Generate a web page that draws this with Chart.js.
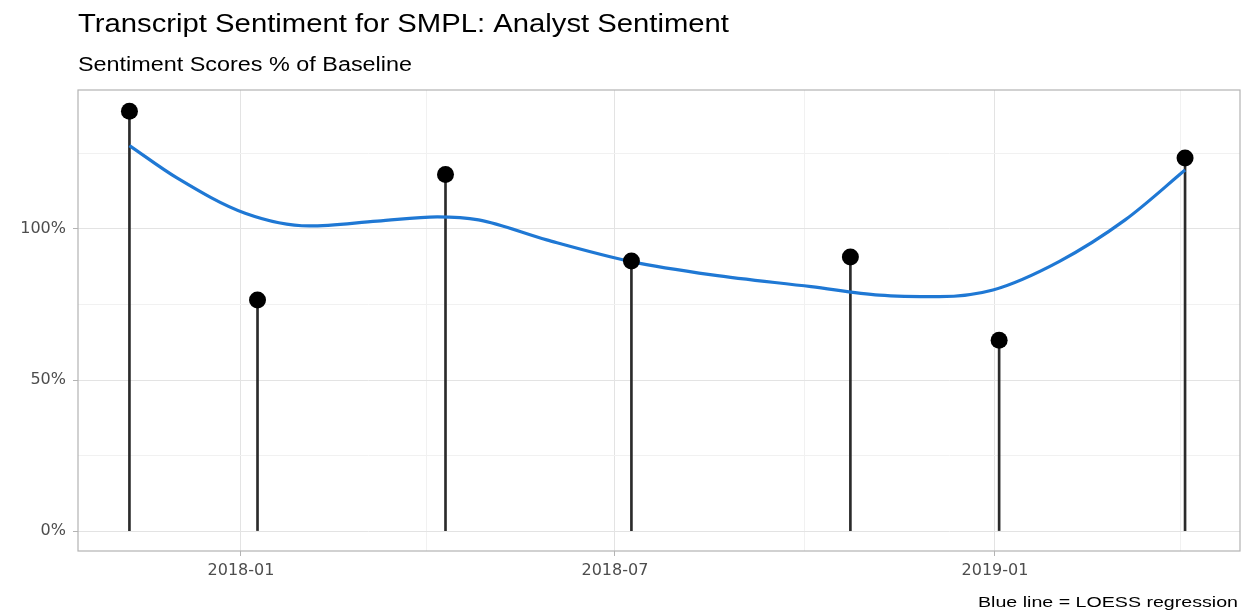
<!DOCTYPE html>
<html>
<head>
<meta charset="utf-8">
<script src="https://cdn.jsdelivr.net/npm/chart.js@4.4.1/dist/chart.umd.min.js"></script>
<style>
  html, body { margin: 0; padding: 0; background: #fff; }
  #wrap { width: 1250px; height: 613px; }
</style>
</head>
<body>
<div id="wrap"><canvas id="chart" width="1250" height="613"></canvas></div>
<script>
// call dates and sentiment score (% of baseline)
const callDates = ['2017-11-08', '2018-01-09', '2018-04-10', '2018-07-09', '2018-10-23', '2019-01-03', '2019-04-03'];
const scores = [139, 76.5, 118, 89.4, 90.7, 63.2, 123.5];

// LOESS curve
const loessDates = ['2017-11-08', '2017-12-01', '2018-01-03', '2018-02-03', '2018-03-08', '2018-04-06', '2018-04-26',
  '2018-05-29', '2018-07-09', '2018-08-17', '2018-10-04', '2018-11-06', '2018-12-05', '2018-12-31',
  '2019-02-01', '2019-03-05', '2019-04-03'];
const loessValues = [127.6, 116.9, 105.2, 101, 102.6, 104, 103, 96.4, 89.2, 84.8, 80.9, 78.1, 77.6, 79.8, 89.2, 103, 119.5];

const xTickDates = ['2018-01-01', '2018-07-01', '2019-01-01'];
const xTickLabels = ['2018-01', '2018-07', '2019-01'];
const xMinorDates = ['2018-04-01', '2018-10-01', '2019-04-01'];
const yTicks = [0, 50, 100];
const yMinorTicks = [25, 75, 125];

const title = 'Transcript Sentiment for SMPL: Analyst Sentiment';
const subtitle = 'Sentiment Scores % of Baseline';
const caption = 'Blue line = LOESS regression';

const base = Date.parse('2018-01-01');
const toDay = d => (Date.parse(d) - base) / 86400000;

const points = callDates.map((d, i) => ({ x: toDay(d), y: scores[i] }));
const loess = loessDates.map((d, i) => ({ x: toDay(d), y: loessValues[i] }));
const xMajor = xTickDates.map(toDay);
const xMinor = xMinorDates.map(toDay);

const fitText = (ctx, text, x, y, size, width, align, color) => {
  ctx.save();
  ctx.font = size + 'px "Liberation Sans", Arial, sans-serif';
  const w = ctx.measureText(text).width;
  ctx.translate(x, y);
  ctx.scale(width / w, 1);
  ctx.textAlign = align;
  ctx.textBaseline = 'alphabetic';
  ctx.fillStyle = color;
  ctx.fillText(text, 0, 0);
  ctx.restore();
};

const frame = {
  id: 'frame',
  beforeDatasetsDraw(chart) {
    const { ctx, chartArea: a } = chart;
    ctx.save();
    ctx.strokeStyle = '#b3b3b3';
    ctx.lineWidth = 1.2;
    ctx.strokeRect(a.left, a.top, a.right - a.left, a.bottom - a.top);
    ctx.restore();
  },
  afterDraw(chart) {
    const ctx = chart.ctx;
    fitText(ctx, title, 78, 32, 26, 651, 'left', '#000');
    fitText(ctx, subtitle, 78, 71, 20, 334, 'left', '#000');
    fitText(ctx, caption, 1238, 607, 15, 260, 'right', '#000');
  }
};

const tickFont = { family: '"DejaVu Sans", sans-serif', size: 16 };

new Chart(document.getElementById('chart'), {
  type: 'scatter',
  data: {
    datasets: [
      {
        type: 'scatter',
        data: points,
        pointRadius: 8.5,
        pointBackgroundColor: '#000',
        pointBorderWidth: 0,
        order: 0
      },
      {
        type: 'line',
        data: loess,
        borderColor: '#1f78d4',
        borderWidth: 3.2,
        pointRadius: 0,
        cubicInterpolationMode: 'monotone',
        fill: false,
        order: 1
      },
      {
        type: 'bar',
        data: points,
        backgroundColor: '#2b2b2b',
        barThickness: 2,
        order: 2
      }
    ]
  },
  options: {
    responsive: false,
    animation: false,
    layout: { padding: { top: 90, right: 10, bottom: 22, left: 0 } },
    plugins: { legend: { display: false }, tooltip: { enabled: false } },
    scales: {
      x: {
        type: 'linear',
        min: -78.9,
        max: 483.6,
        offset: false,
        afterBuildTicks: s => { s.ticks = xMajor.concat(xMinor).sort((a, b) => a - b).map(v => ({ value: v })); },
        afterFit: s => { s.height = 40; },
        border: { display: false },
        grid: {
          offset: false,
          color: c => xMajor.includes(c.tick.value) ? '#e3e3e3' : '#f1f1f1',
          lineWidth: 1,
          tickLength: 5,
          tickColor: c => xMajor.includes(c.tick.value) ? '#b3b3b3' : 'rgba(0,0,0,0)'
        },
        ticks: {
          autoSkip: false,
          maxRotation: 0,
          padding: 5,
          color: '#4d4d4d',
          font: tickFont,
          callback: v => { const i = xMajor.indexOf(v); return i >= 0 ? xTickLabels[i] : ''; }
        }
      },
      y: {
        min: -6.6,
        max: 146,
        afterBuildTicks: s => { s.ticks = yTicks.concat(yMinorTicks).sort((a, b) => a - b).map(v => ({ value: v })); },
        afterFit: s => { s.width = 78; },
        border: { display: false },
        grid: {
          color: c => yTicks.includes(c.tick.value) ? '#e3e3e3' : '#f1f1f1',
          lineWidth: 1,
          tickLength: 5,
          tickColor: c => yTicks.includes(c.tick.value) ? '#b3b3b3' : 'rgba(0,0,0,0)'
        },
        ticks: {
          padding: 7,
          color: '#4d4d4d',
          font: tickFont,
          callback: v => yTicks.includes(v) ? v + '%' : ''
        }
      }
    }
  },
  plugins: [frame]
});
</script>
</body>
</html>
